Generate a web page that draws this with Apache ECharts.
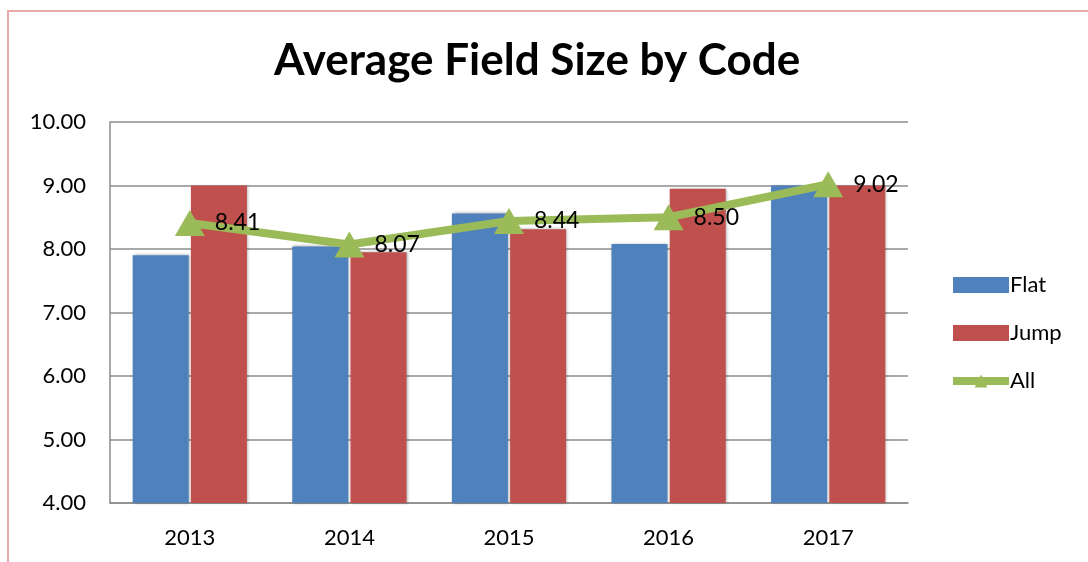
<!DOCTYPE html>
<html>
<head>
<meta charset="utf-8">
<script src="https://cdn.jsdelivr.net/npm/echarts@6/dist/echarts.min.js"></script>
<style>
    html, body { margin: 0; padding: 0; background: #fff; overflow: hidden; }
    #frame { position: absolute; left: 7px; top: 10px; width: 1100px; height: 580px; border: 2px solid #e8aaaa; }
    #chart { position: absolute; left: 0; top: 0; width: 1088px; height: 562px; }
</style>
</head>
<body>
<div id="frame"></div>
<div id="chart"></div>
<script>
var years = ['2013', '2014', '2015', '2016', '2017'];
var flat = [7.90, 8.04, 8.56, 8.08, 9.00];
var jump = [9.00, 7.95, 8.31, 8.95, 9.00];
var all = [8.41, 8.07, 8.44, 8.50, 9.02];

var font = 'Lato, "Open Sans", sans-serif';

var myChart = echarts.init(document.getElementById('chart'));

// bars get a soft shadow like the excel original
var barShadow = {
    shadowColor: 'rgba(0,0,0,0.35)',
    shadowBlur: 3,
    shadowOffsetX: 1,
    shadowOffsetY: 0
};

var option = {
    animation: false,
    backgroundColor: 'transparent',
    title: {
        text: 'Average Field Size by Code',
        left: 269,
        top: 34,
        textStyle: { fontFamily: font, fontWeight: 'bold', fontSize: 44, color: '#000' }
    },
    legend: {
        orient: 'vertical',
        left: 944,
        top: 269,
        itemWidth: 56,
        itemHeight: 16,
        itemGap: 26,
        textStyle: { fontFamily: font, fontSize: 22, color: '#000', padding: [0, 0, 0, -4] },
        data: [
            { name: 'Flat', icon: 'rect' },
            { name: 'Jump', icon: 'rect' },
            { name: 'All', lineStyle: { width: 8 } }
        ]
    },
    grid: { left: 110, right: 180, top: 122, bottom: 59 },
    xAxis: {
        type: 'category',
        data: years,
        axisLine: { lineStyle: { color: '#8c8c8c', width: 1.5 } },
        axisTick: { show: false },
        axisLabel: { fontFamily: font, fontSize: 22, color: '#000', margin: 24 }
    },
    yAxis: {
        type: 'value',
        min: 4,
        max: 10,
        interval: 1,
        axisLine: { show: true, lineStyle: { color: '#8c8c8c', width: 1.5 } },
        axisTick: { show: false },
        splitLine: { lineStyle: { color: '#8c8c8c', width: 1.5 } },
        axisLabel: {
            fontFamily: font, fontSize: 22, color: '#000', margin: 24,
            formatter: function (v) { return v.toFixed(2); }
        }
    },
    series: [{
        name: 'Flat',
        type: 'bar',
        data: flat,
        barWidth: 56,
        barGap: '4%',
        itemStyle: Object.assign({ color: '#4f81bd' }, barShadow)
    }, {
        name: 'Jump',
        type: 'bar',
        data: jump,
        barWidth: 56,
        itemStyle: Object.assign({ color: '#c0504d' }, barShadow)
    }, {
        name: 'All',
        type: 'line',
        data: all,
        symbol: 'triangle',
        symbolSize: [30, 26],
        lineStyle: { color: '#9bbb59', width: 8 },
        itemStyle: { color: '#9bbb59' },
        label: {
            show: true,
            position: 'right',
            distance: 10,
            fontFamily: font,
            fontSize: 23,
            color: '#000',
            formatter: function (p) { return p.value.toFixed(2); }
        }
    }]
};

myChart.setOption(option);
</script>
</body>
</html>
